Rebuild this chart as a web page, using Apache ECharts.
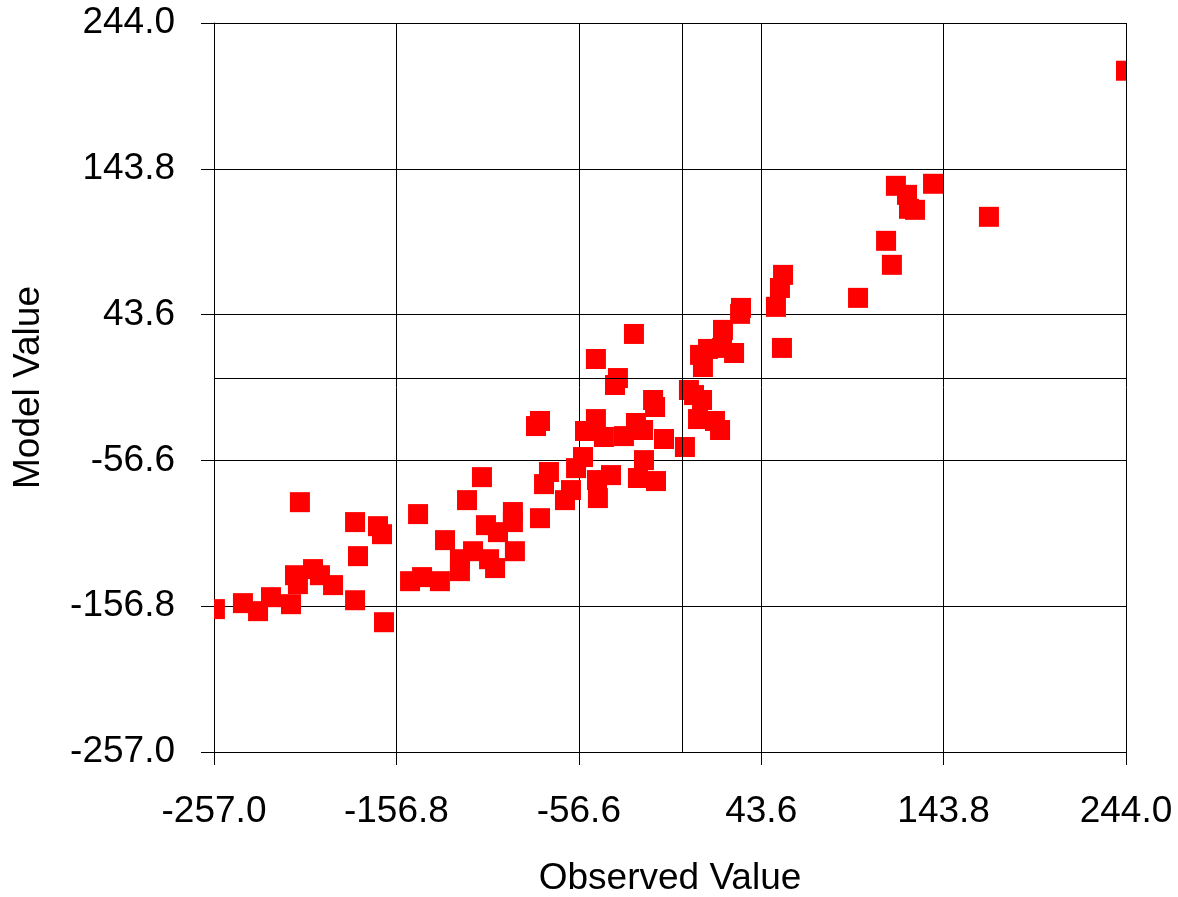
<!DOCTYPE html>
<html>
<head>
<meta charset="utf-8">
<script src="https://cdn.jsdelivr.net/npm/echarts@6/dist/echarts.min.js"></script>
<style>
  html, body { margin: 0; padding: 0; background: #fff; }
  #chart { width: 1178px; height: 897px; }
</style>
</head>
<body>
<div id="chart"></div>
<script>
// observed vs model values
const observed = [
  244, 117.6, 123.7, 124.8, 128.1, 138, 168.7, 112.2, 115.4, 96.8,
  55.6, 53.9, 51.7, 55, 32.5, 32, 22.6, 14.4, 10, 11.6,
  22.1, 28.7, 3.9, 6.7, 11.1, 8.9, 18.2, 21, 1.7, -9.8,
  -15.8, -14.7, -21.3, -25.2, -31.8, -42.8, -53.2, -47.2, -54.3, -58.1,
  -73, -75.7, -46.6, -38.9, -46.1, -20.8, -24.1, -14.2, -26.3, -47.2,
  -35.1, -36.7, -77.9, -80.1, -64.2, -60.9, -77.9, -92.8, -92.8, -107.6,
  -101, -109.8, -118, -130.1, -91.7, -114.7, -121.9, -121.9, -105.9, -102.6,
  -144.9, -149.3, -142.7, -132.9, -209.8, -179.5, -166.9, -164.7, -177.9, -179.5,
  -163.6, -256.5, -241.1, -232.8, -225.7, -214.7, -212.5, -210.9, -202.6, -198.8,
  -191.6
];
const model = [
  211.2, 132.1, 125.9, 116.3, 115.6, 133.5, 110.8, 94.3, 77.8, 55.1,
  70.9, 61.9, 48.9, 20.7, 48.2, 44.1, 33.1, 20, 15.9, 7.6,
  20.7, 17.2, -8.2, -11.7, -15.1, -28.2, -29.5, -35.7, -47.4, -41.9,
  -15.1, -19.9, -35.7, -30.9, -39.9, -40.5, -36.4, -28.2, -54.3, -61.9,
  -64.6, -72.9, -70.1, -66.7, -82.5, -56.4, -68.7, -70.8, 30.3, 13.1,
  0, -4.8, -29.5, -33, -83.9, -77, -96.3, -92.1, -99, -101.1,
  -105.9, -68.1, -83.9, -111.4, -119, -119, -124.5, -132.7, -124.5, -130.6,
  -93.5, -139.6, -136.8, -139.6, -85.3, -99, -101.8, -107.3, -122.4, -152.7,
  -167.8, -158.8, -154.7, -160.2, -150.6, -155.4, -135.5, -141.6, -131.3, -135.5,
  -142.3
];
const axisMin = -257.0;
const axisMax = 244.0;
const axisStep = 100.2;

const chart = echarts.init(document.getElementById('chart'));
const font = 'Liberation Sans, Arial, sans-serif';
const markSize = 20;

const axisCommon = {
  type: 'value',
  min: axisMin,
  max: axisMax,
  interval: axisStep,
  nameLocation: 'middle',
  nameTextStyle: { fontFamily: font, fontSize: 37, color: '#000' },
  axisLine: { show: true, onZero: false, lineStyle: { color: '#000', width: 1 } },
  axisTick: { show: true, length: 13, lineStyle: { color: '#000', width: 1 } },
  splitLine: { show: true, lineStyle: { color: '#000', width: 1 } },
  axisLabel: {
    fontFamily: font, fontSize: 37, color: '#000',
    formatter: v => v.toFixed(1)
  }
};

const option = {
  animation: false,
  backgroundColor: '#fff',
  grid: { left: 214, top: 23, right: 52, bottom: 145, outerBoundsMode: 'none', containLabel: false },
  xAxis: Object.assign({}, axisCommon, {
    name: 'Observed Value',
    nameGap: 108,
    axisLabel: Object.assign({}, axisCommon.axisLabel, { margin: 41 })
  }),
  yAxis: Object.assign({}, axisCommon, {
    name: 'Model Value',
    nameGap: 167,
    axisLabel: Object.assign({}, axisCommon.axisLabel, { margin: 39 })
  }),
  series: [
    {
      // square markers, clipped at the plot frame like the original
      type: 'custom',
      clip: true,
      encode: { x: 0, y: 1 },
      data: observed.map((x, i) => [x, model[i]]),
      renderItem: (params, api) => {
        const p = api.coord([api.value(0), api.value(1)]);
        return {
          type: 'rect',
          shape: { x: p[0] - markSize / 2, y: p[1] - markSize / 2, width: markSize, height: markSize },
          style: { fill: '#ff0000' }
        };
      },
      z: 3
    },
    {
      // zero lines
      type: 'scatter',
      data: [],
      markLine: {
        silent: true,
        symbol: 'none',
        label: { show: false },
        lineStyle: { color: '#000', width: 1, type: 'solid' },
        data: [{ xAxis: 0 }, { yAxis: 0 }]
      },
      z: 1
    }
  ]
};

chart.setOption(option);
</script>
</body>
</html>
